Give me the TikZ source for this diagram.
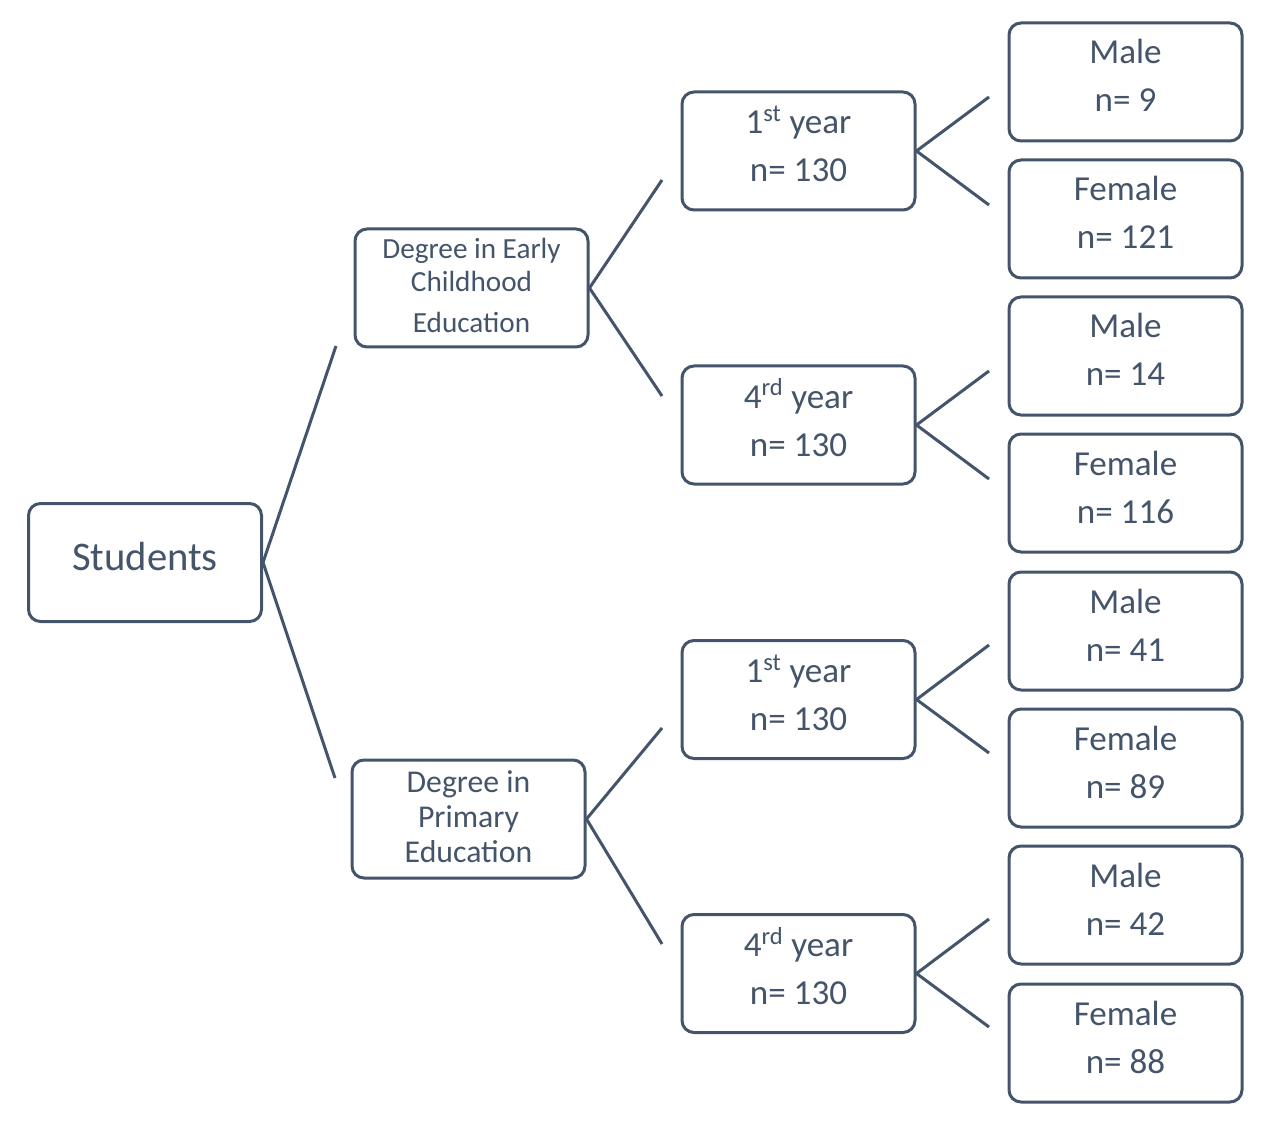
\documentclass[tikz,border=0pt]{standalone}
\usepackage{fontspec}
\setmainfont{Carlito}
\definecolor{ink}{HTML}{44546A}
\begin{document}
\begin{tikzpicture}[x=0.75pt,y=-0.75pt,
  box/.style={draw=ink, line width=2.25pt, rounded corners=9pt, minimum width=174.75pt, minimum height=88.5pt, inner sep=0pt, fill=white},
  lbl/.style={anchor=base, inner sep=0pt, text=ink, font=\fontsize{26.3}{31}\selectfont},
  lblA/.style={anchor=base, inner sep=0pt, text=ink, font=\fontsize{21.9}{26}\selectfont},
  lblB/.style={anchor=base, inner sep=0pt, text=ink, font=\fontsize{23.8}{28}\selectfont},
  lblS/.style={anchor=base, inner sep=0pt, text=ink, font=\fontsize{30.5}{36}\selectfont},
  conn/.style={draw=ink, line width=2.25pt}]
\useasboundingbox (0,0) rectangle (1262,1126);

% Root
\node[box] (stu) at (145,562.5) {};
\node[lblS] (stut) at (145,570) {Students};

% Degrees
\node[box] (ece) at (471.5,288) {};
\node[lblA] (ece1) at (471.5,259) {Degree in Early};
\node[lblA] (ece2) at (471.5,292) {Childhood};
\node[lblA] (ece3) at (471.5,333) {Education};

\node[box] (pe) at (468.5,819) {};
\node[lblB] (pe1) at (468.5,792) {Degree in};
\node[lblB] (pe2) at (468.5,827) {Primary};
\node[lblB] (pe3) at (468.5,862) {Education};

% Years
\foreach \nm/\cy/\yr in {ya/151/{1\textsuperscript{st} year}, yb/425/{4\textsuperscript{rd} year}, yc/699.5/{1\textsuperscript{st} year}, yd/973.5/{4\textsuperscript{rd} year}}{
  \node[box] (\nm) at (798.5,\cy) {};
  \node[lbl] (\nm t1) at (798.5,\cy-17) {\yr};
  \node[lbl] (\nm t2) at (798.5,\cy+31) {n= 130};
}

% Leaves
\foreach \nm/\cy/\sx/\n in {la/82/Male/9, lb/219/Female/121, lc/356/Male/14, ld/493/Female/116, le/631/Male/41, lf/768/Female/89, lg/905/Male/42, lh/1043/Female/88}{
  \node[box] (\nm) at (1125.5,\cy) {};
  \node[lbl] (\nm t1) at (1125.5,\cy-18) {\sx};
  \node[lbl] (\nm t2) at (1125.5,\cy+30) {n= \n};
}

% Free ends
\coordinate (s1) at (336,346);
\coordinate (s2) at (335,778);
\coordinate (e1) at (662,180);
\coordinate (e2) at (662,396);
\coordinate (p1) at (662,728);
\coordinate (p2) at (662,944);
\coordinate (a1) at (989,97);
\coordinate (a2) at (989,205);
\coordinate (b1) at (989,371);
\coordinate (b2) at (989,479);
\coordinate (c1) at (989,645);
\coordinate (c2) at (989,753);
\coordinate (d1) at (989,919);
\coordinate (d2) at (989,1027);

\draw[conn] (s1) -- (stu.east) -- (s2);
\draw[conn] (e1) -- (ece.east) -- (e2);
\draw[conn] (p1) -- (pe.east) -- (p2);
\draw[conn] (a1) -- (ya.east) -- (a2);
\draw[conn] (b1) -- (yb.east) -- (b2);
\draw[conn] (c1) -- (yc.east) -- (c2);
\draw[conn] (d1) -- (yd.east) -- (d2);
\end{tikzpicture}
\end{document}
